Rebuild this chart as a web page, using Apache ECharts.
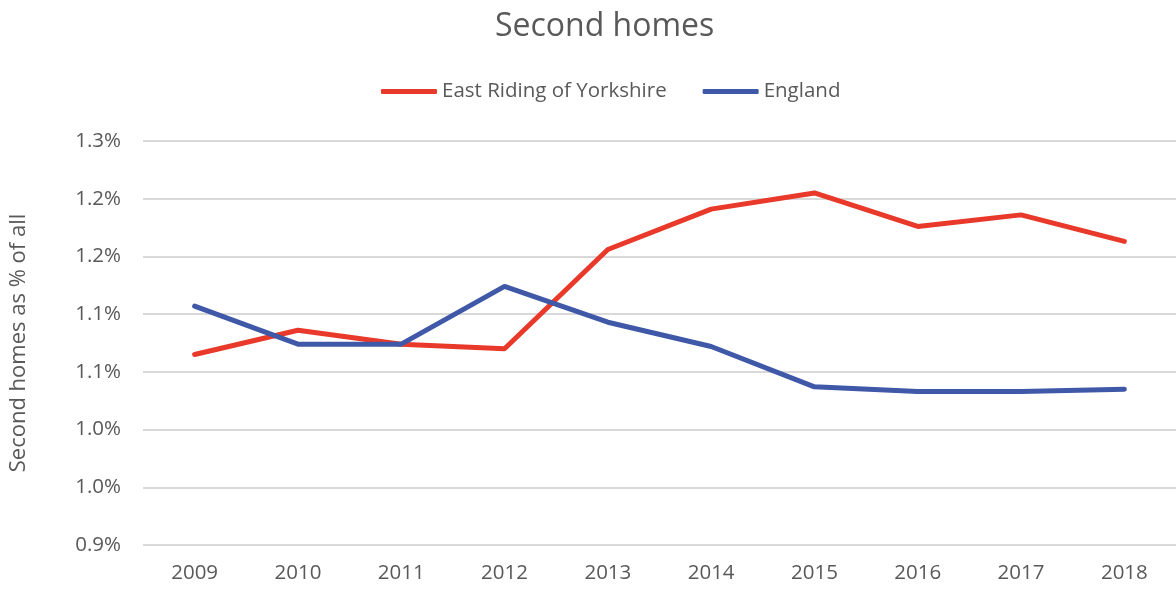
<!DOCTYPE html>
<html><head><meta charset="utf-8">
<script src="https://cdn.jsdelivr.net/npm/echarts@6/dist/echarts.min.js"></script>
<style>html,body{margin:0;padding:0;background:#fff}#c{width:1176px;height:590px}</style>
</head><body><div id="c"></div>
<script>
const categories = ['2009','2010','2011','2012','2013','2014','2015','2016','2017','2018'];
const eastRiding = [1.065,1.086,1.074,1.070,1.156,1.191,1.205,1.176,1.186,1.163];
const england = [1.107,1.074,1.074,1.124,1.093,1.072,1.037,1.033,1.033,1.035];
const tickValues = [0.90,0.95,1.00,1.05,1.10,1.15,1.20,1.25];
const tickLabels = ['0.9%','1.0%','1.0%','1.1%','1.1%','1.2%','1.2%','1.3%'];
const font = '"Open Sans", "Noto Sans", sans-serif';
const chart = echarts.init(document.getElementById('c'));
chart.setOption({
  animation:false,
  title:{text:'Second homes',left:490,top:6,textStyle:{fontFamily:font,fontSize:32,fontWeight:'normal',color:'#595959'}},
  legend:{top:76,left:376,itemWidth:56,itemHeight:5,itemGap:36,icon:'roundRect',
    textStyle:{fontFamily:font,fontSize:20.5,color:'#595959'},
    data:['East Riding of Yorkshire','England']},
  grid:{left:140,top:141,width:1041,height:404,containLabel:false},
  xAxis:{type:'category',data:categories,boundaryGap:true,
    axisLine:{show:false},axisTick:{show:false},
    axisLabel:{fontFamily:font,fontSize:20.5,color:'#595959',margin:18}},
  yAxis:{type:'value',min:0.9,max:1.25,interval:0.05,
    name:'Second homes as % of all',nameLocation:'middle',nameGap:113,nameRotate:90,
    nameTextStyle:{fontFamily:font,fontSize:22,color:'#595959'},
    axisLine:{show:false},axisTick:{show:false},
    splitLine:{lineStyle:{color:'#d9d9d9',width:2}},
    axisLabel:{fontFamily:font,fontSize:20.5,color:'#595959',margin:22,
      formatter:function(v){let i=tickValues.findIndex(t=>Math.abs(t-v)<1e-6);return i>=0?tickLabels[i]:'';}}},
  series:[
    {name:'East Riding of Yorkshire',type:'line',data:eastRiding,symbol:'none',
      lineStyle:{color:'#E8392A',width:5,cap:'round'},itemStyle:{color:'#E8392A'}},
    {name:'England',type:'line',data:england,symbol:'none',
      lineStyle:{color:'#3F58A8',width:5,cap:'round'},itemStyle:{color:'#3F58A8'}}
  ]
});
</script></body></html>
